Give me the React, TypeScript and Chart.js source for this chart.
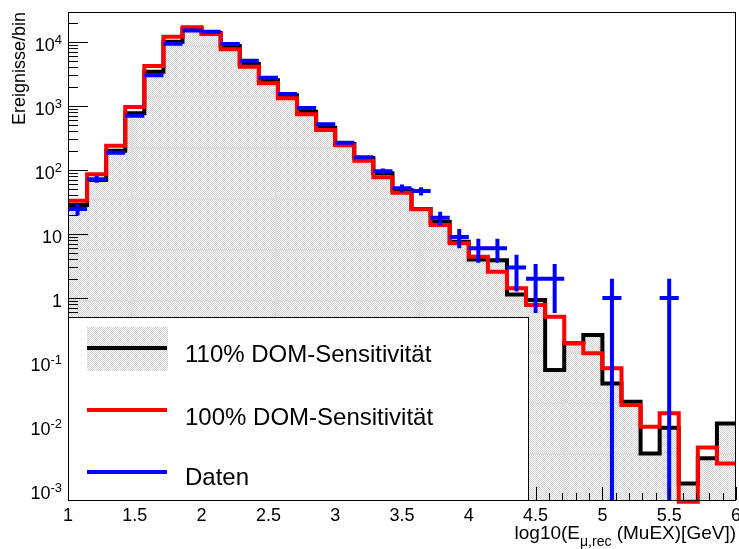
import React, { useEffect, useRef } from 'react';
import { Chart, registerables } from 'chart.js';

Chart.register(...registerables);

// ---- axis definition ----
const X_MIN = 1;
const X_MAX = 6;
const N_BINS = 35;
const Y_MIN = 0.0007;
const Y_MAX = 29400;

const xTickValues = [1, 1.5, 2, 2.5, 3, 3.5, 4, 4.5, 5, 5.5, 6];
const xTickLabels = ['1', '1.5', '2', '2.5', '3', '3.5', '4', '4.5', '5', '5.5', '6'];
const yTickValues = [0.001, 0.01, 0.1, 1, 10, 100, 1000, 10000];
const yTickBases = ['10', '10', '10', '1', '10', '10', '10', '10'];
const yTickSups = ['-3', '-2', '-1', '', '', '2', '3', '4'];

const legendLabels = ['110% DOM-Sensitivität', '100% DOM-Sensitivität', 'Daten'];
const yTitle = 'Ereignisse/bin';
const xTitleParts = ['log10(E', 'μ,rec', ' (MuEX)[GeV])'];

// ---- data (per bin, 35 bins from 1 to 6) ----
const sens110 = [
  28.4, 70, 200, 770, 3430, 10100, 15900, 13800, 8660, 4530,
  2520, 1470, 815, 458, 255, 154, 89, 48.7, 24.5, 15.6,
  7.6, 4.0, 3.9, 1.14, 0.93, 0.075, 0.196, 0.264, 0.0464, 0.024,
  0.00374, 0.0094, 0.00127, 0.00313, 0.011,
];
const sens100 = [
  33.1, 85.7, 240, 964, 4220, 12100, 16960, 13330, 7690, 4110,
  2265, 1320, 741, 422, 243, 140, 77, 44.2, 24.3, 13.8,
  7.2, 4.4, 2.58, 1.42, 0.78, 0.51, 0.196, 0.137, 0.08, 0.0213,
  0.0098, 0.0158, 0.00066, 0.00464, 0.00261,
];
const daten: (number | null)[] = [
  24.5, 72, 186, 705, 3020, 9400, 15100, 14500, 9310, 5110,
  2765, 1540, 931, 518, 267, 158, 96, 52, 47, 18,
  9, 6, 6, 3, 2, 2, null, null, 1, null,
  null, 1, null, null, null,
];

const FONT = '"Liberation Sans", Arial, Helvetica, sans-serif';

function binEdge(i: number) {
  return X_MIN + ((X_MAX - X_MIN) * i) / N_BINS;
}

function histPoints(vals: number[]) {
  const pts: { x: number; y: number }[] = [];
  for (let i = 0; i <= vals.length; i++) {
    pts.push({ x: binEdge(i), y: vals[Math.min(i, vals.length - 1)] });
  }
  return pts;
}

function errorPoints(vals: (number | null)[]) {
  const pts: { x: number; y: number | null }[] = [];
  vals.forEach((v, i) => {
    if (v == null || v <= 0) return;
    const lo = binEdge(i);
    const hi = binEdge(i + 1);
    const c = (lo + hi) / 2;
    const e = Math.sqrt(v);
    pts.push({ x: c, y: Math.max(v - e, Y_MIN / 2) }, { x: c, y: v + e }, { x: c, y: null });
    pts.push({ x: lo, y: v }, { x: hi, y: v }, { x: hi, y: null });
  });
  return pts;
}

function makePattern(withLines: boolean): CanvasPattern | string {
  const c = document.createElement('canvas');
  c.width = 144;
  c.height = 102;
  const g = c.getContext('2d');
  if (!g) return '#e6e6e6';
  g.fillStyle = '#ffffff';
  g.fillRect(0, 0, c.width, c.height);
  g.fillStyle = '#cfcfcf';
  for (let y = 0; y < c.height; y++) {
    for (let x = 0; x < c.width; x++) {
      if ((x + y) % 2 === 0) g.fillRect(x, y, 1, 1);
    }
  }
  if (withLines) {
    g.fillStyle = '#dcdcdc';
    g.fillRect(131, 0, 2, c.height);
    g.fillRect(0, 45, c.width, 2);
    g.fillRect(0, 96, c.width, 2);
  }
  const p = g.createPattern(c, 'repeat');
  return p || '#e6e6e6';
}

const rootStyle = {
  id: 'rootStyle',
  afterDatasetsDraw(chart: any) {
    const { ctx, chartArea: a, scales } = chart;
    const xs = scales.x;
    const ys = scales.y;
    ctx.save();
    // frame
    ctx.strokeStyle = '#000';
    ctx.lineWidth = 1;
    ctx.strokeRect(a.left + 0.5, a.top + 0.5, a.right - a.left - 1, a.bottom - a.top);

    // x ticks (inside)
    ctx.beginPath();
    for (let k = 10; k <= 60; k++) {
      const v = k / 10;
      const px = Math.round(xs.getPixelForValue(v)) + 0.5;
      const len = k % 5 === 0 ? 13 : 7;
      ctx.moveTo(px, a.bottom);
      ctx.lineTo(px, a.bottom - len);
    }
    // y ticks (inside)
    for (let e = -4; e <= 5; e++) {
      for (let m = 1; m <= 9; m++) {
        const v = m * Math.pow(10, e);
        if (v < Y_MIN || v > Y_MAX) continue;
        const py = Math.round(ys.getPixelForValue(v)) + 0.5;
        const len = m === 1 ? 20 : 10;
        ctx.moveTo(a.left, py);
        ctx.lineTo(a.left + len, py);
      }
    }
    ctx.stroke();

    // y labels
    ctx.fillStyle = '#000';
    ctx.textBaseline = 'alphabetic';
    ctx.textAlign = 'right';
    yTickValues.forEach((v, i) => {
      const py = ys.getPixelForValue(v);
      let right = 62;
      const sup = yTickSups[i];
      if (sup) {
        ctx.font = `13px ${FONT}`;
        ctx.fillText(sup, right, py + 2);
        right -= ctx.measureText(sup).width;
      }
      ctx.font = `18px ${FONT}`;
      ctx.fillText(yTickBases[i], right, py + 9);
    });

    // x labels
    ctx.textAlign = 'center';
    ctx.font = `18px ${FONT}`;
    xTickValues.forEach((v, i) => {
      ctx.fillText(xTickLabels[i], xs.getPixelForValue(v), 521);
    });

    // x title (right aligned)
    ctx.textAlign = 'left';
    ctx.font = `19px ${FONT}`;
    const w0 = ctx.measureText(xTitleParts[0]).width;
    const w2 = ctx.measureText(xTitleParts[2]).width;
    ctx.font = `14px ${FONT}`;
    const w1 = ctx.measureText(xTitleParts[1]).width;
    let sx = a.right - (w0 + w1 + w2);
    ctx.font = `19px ${FONT}`;
    ctx.fillText(xTitleParts[0], sx, 539);
    sx += w0;
    ctx.font = `14px ${FONT}`;
    ctx.fillText(xTitleParts[1], sx, 546);
    sx += w1;
    ctx.font = `19px ${FONT}`;
    ctx.fillText(xTitleParts[2], sx, 539);

    // y title
    ctx.save();
    ctx.translate(25, a.top);
    ctx.rotate(-Math.PI / 2);
    ctx.textAlign = 'right';
    ctx.font = `18px ${FONT}`;
    ctx.fillText(yTitle, 0, 0);
    ctx.restore();

    ctx.restore();
  },
  afterDraw(chart: any) {
    const { ctx, chartArea: a } = chart;
    const ds = chart.data.datasets;
    ctx.save();
    // legend box
    const L = a.left + 0.5;
    const T = 317.5;
    const R = 528.5;
    const B = a.bottom + 0.5;
    ctx.fillStyle = '#fff';
    ctx.fillRect(L, T, R - L, B - T);
    ctx.strokeStyle = '#000';
    ctx.lineWidth = 1;
    ctx.strokeRect(L, T, R - L, B - T);

    const rows = [348, 410, 472];
    const bases = [362, 425, 485];
    // pattern box for the filled entry
    ctx.fillStyle = chart.$legendPattern || '#e6e6e6';
    ctx.fillRect(87, 327, 81, 44);
    ds.forEach((d: any, i: number) => {
      ctx.strokeStyle = d.borderColor;
      ctx.lineWidth = 4;
      ctx.beginPath();
      ctx.moveTo(87, rows[i]);
      ctx.lineTo(167, rows[i]);
      ctx.stroke();
      ctx.fillStyle = '#000';
      ctx.font = `24px ${FONT}`;
      ctx.textAlign = 'left';
      ctx.textBaseline = 'alphabetic';
      ctx.fillText(d.label, 185, bases[i]);
    });
    ctx.restore();
  },
};

export default function App() {
  const ref = useRef<HTMLCanvasElement | null>(null);
  useEffect(() => {
    if (!ref.current) return;
    const pattern = makePattern(true);
    const chart: any = new Chart(ref.current, {
      type: 'line',
      data: {
        datasets: [
          {
            label: legendLabels[0],
            data: histPoints(sens110),
            stepped: 'before',
            borderColor: '#000000',
            borderWidth: 4,
            fill: 'start',
            backgroundColor: pattern as any,
            pointRadius: 0,
            order: 3,
          },
          {
            label: legendLabels[1],
            data: histPoints(sens100),
            stepped: 'before',
            borderColor: '#ff0000',
            borderWidth: 4,
            fill: false,
            pointRadius: 0,
            order: 2,
            clip: 4,
          },
          {
            label: legendLabels[2],
            data: errorPoints(daten) as any,
            borderColor: '#0000ff',
            borderWidth: 4,
            fill: false,
            pointRadius: 0,
            spanGaps: false,
            order: 1,
          },
        ],
      },
      options: {
        animation: false,
        responsive: false,
        devicePixelRatio: 1,
        layout: { padding: { left: 68, top: 12, right: 3, bottom: 49 } },
        plugins: { legend: { display: false }, tooltip: { enabled: false } },
        elements: { line: { tension: 0, borderCapStyle: 'butt', borderJoinStyle: 'miter' } },
        scales: {
          x: { type: 'linear', min: X_MIN, max: X_MAX, display: false, bounds: 'data' },
          y: { type: 'logarithmic', min: Y_MIN, max: Y_MAX, display: false, bounds: 'data' },
        },
      },
      plugins: [rootStyle],
    } as any);
    chart.$legendPattern = makePattern(false);
    chart.draw();
    return () => chart.destroy();
  }, []);
  return (
    <div style={{ position: 'absolute', left: 0, top: 0, width: 739, height: 549, background: '#fff' }}>
      <canvas ref={ref} width={739} height={549} style={{ width: 739, height: 549, display: 'block' }} />
    </div>
  );
}
